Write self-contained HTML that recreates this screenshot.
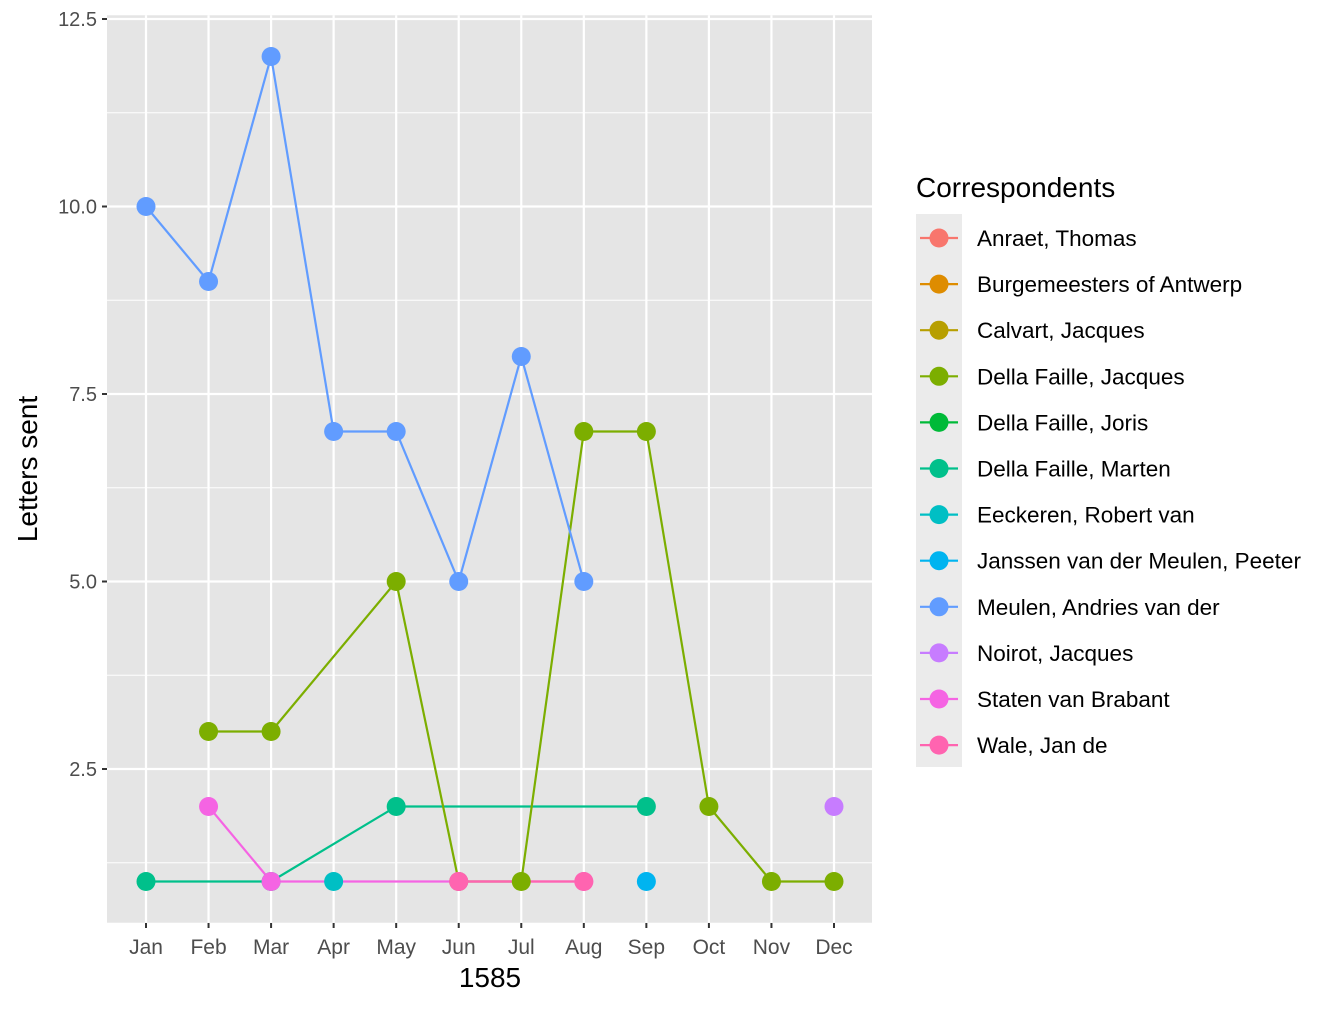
<!DOCTYPE html>
<html><head><meta charset="utf-8"><style>
body{margin:0;background:#fff;}
svg text{font-family:"Liberation Sans",Arial,sans-serif;}
</style></head><body>
<svg id="chart" width="1344" height="1008" viewBox="0 0 1344 1008" xmlns="http://www.w3.org/2000/svg">
<rect x="107" y="15.25" width="765" height="907.5" fill="#e5e5e5"/>
<g id="grid"></g><g id="lines"></g><g id="points"></g><g id="axes"></g><g id="legend"></g>
<text x="490" y="987" font-size="28" text-anchor="middle" fill="#000">1585</text>
<text transform="translate(37,469) rotate(-90)" font-size="28" text-anchor="middle" fill="#000">Letters sent</text>
</svg>
<script>
const months=["Jan","Feb","Mar","Apr","May","Jun","Jul","Aug","Sep","Oct","Nov","Dec"];
const yTicks=[2.5,5.0,7.5,10.0,12.5];
const yTickLabels=["2.5","5.0","7.5","10.0","12.5"];
const seriesNames=["Anraet, Thomas","Burgemeesters of Antwerp","Calvart, Jacques","Della Faille, Jacques","Della Faille, Joris","Della Faille, Marten","Eeckeren, Robert van","Janssen van der Meulen, Peeter","Meulen, Andries van der","Noirot, Jacques","Staten van Brabant","Wale, Jan de"];
const seriesColors=["#F8766D","#DE8C00","#B79F00","#7CAE00","#00BA38","#00C08B","#00BFC4","#00B4F0","#619CFF","#C77CFF","#F564E3","#FF64B0"];
const meulenMonths=[0,1,2,3,4,5,6,7];
const meulenValues=[10,9,12,7,7,5,8,5];
const jacquesMonths=[1,2,4,5,6,7,8,9,10,11];
const jacquesValues=[3,3,5,1,1,7,7,2,1,1];
const martenMonths=[0,2,4,8];
const martenValues=[1,1,2,2];
const eeckerenMonths=[3];
const eeckerenValues=[1];
const janssenMonths=[8];
const janssenValues=[1];
const noirotMonths=[11];
const noirotValues=[2];
const statenMonths=[1,2,5,7];
const statenValues=[2,1,1,1];
const waleMonths=[5,7];
const waleValues=[1,1];
const seriesData=[
 [martenMonths,martenValues,5],
 [jacquesMonths,jacquesValues,3],
 [eeckerenMonths,eeckerenValues,6],
 [janssenMonths,janssenValues,7],
 [meulenMonths,meulenValues,8],
 [noirotMonths,noirotValues,9],
 [statenMonths,statenValues,10],
 [waleMonths,waleValues,11]
];
const NS="http://www.w3.org/2000/svg";
const x=i=>146+i*62.545;
const y=v=>19+(12.5-v)*75;
function mk(tag,attrs,parent){const e=document.createElementNS(NS,tag);for(const k in attrs)e.setAttribute(k,attrs[k]);parent.appendChild(e);return e;}
const grid=document.getElementById('grid'),axes=document.getElementById('axes');
[1.25,3.75,6.25,8.75,11.25].forEach(v=>{const l=mk('line',{x1:107,x2:872,y1:y(v),y2:y(v),stroke:'#fff','stroke-width':1.1},grid);

});
yTicks.forEach((v,i)=>{const l=mk('line',{x1:107,x2:872,y1:y(v),y2:y(v),stroke:'#fff','stroke-width':2.2},grid);


const t=mk('line',{x1:102,x2:107,y1:y(v),y2:y(v),stroke:'#333','stroke-width':2},axes);


const tx=mk('text',{x:97,y:y(v)+7,'font-size':20,'text-anchor':'end',fill:'#4d4d4d'},axes);tx.textContent=yTickLabels[i];

});
months.forEach((m,i)=>{const l=mk('line',{x1:x(i),x2:x(i),y1:15.25,y2:922.75,stroke:'#fff','stroke-width':2.2},grid);


const t=mk('line',{x1:x(i),x2:x(i),y1:923,y2:928,stroke:'#333','stroke-width':2},axes);


const tx=mk('text',{x:x(i),y:954,'font-size':21,'text-anchor':'middle',fill:'#4d4d4d'},axes);tx.textContent=m;

});
const lines=document.getElementById('lines'),pts=document.getElementById('points');
seriesData.forEach(([ms,vs,ci])=>{const c=seriesColors[ci];
if(ms.length>1){const p=mk('polyline',{points:ms.map((m,k)=>x(m)+','+y(vs[k])).join(' '),fill:'none',stroke:c,'stroke-width':2.2},lines);

}
ms.forEach((m,k)=>{const d=mk('circle',{cx:x(m),cy:y(vs[k]),r:9.5,fill:c},pts);

});});
const lg=document.getElementById('legend');
const lt=mk('text',{x:916,y:197,'font-size':28,fill:'#000'},lg);lt.textContent='Correspondents';


const kb=mk('rect',{x:916,y:214,width:46,height:553,fill:'#ebebeb'},lg);


seriesNames.forEach((n,i)=>{const cy=238+i*46.1;const c=seriesColors[i];
const g=mk('g',{},lg);


mk('line',{x1:920,x2:958,y1:cy,y2:cy,stroke:c,'stroke-width':2.2},g);
mk('circle',{cx:939,cy:cy,r:9.5,fill:c},g);
const t=mk('text',{x:977,y:cy+8,'font-size':22.5,fill:'#000'},g);t.textContent=n;});
</script>
</body></html>
